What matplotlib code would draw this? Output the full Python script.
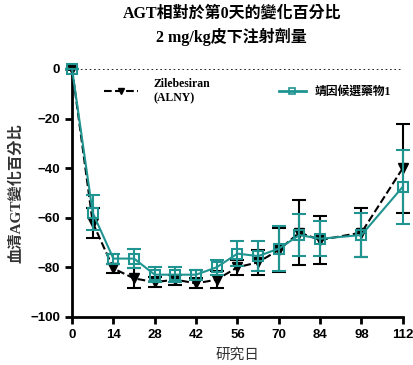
import matplotlib.pyplot as plt
from matplotlib.lines import Line2D

# data
days = [0, 7, 14, 21, 28, 35, 42, 49, 56, 63, 70, 77, 84, 98, 112]

zile_mean = [0, -62, -80.5, -84.5, -86, -85, -86.5, -85, -80, -78, -73, -66, -69, -66, -40]
zile_err = [0, 6, 2, 4, 2, 2, 2, 3.5, 3, 5, 9, 13, 9.5, 10, 18]

cand_mean = [0, -58, -76.5, -76.5, -83, -83, -83, -80, -74.5, -75.5, -72.5, -67, -68.5, -67, -47.5]
cand_err = [0, 7, 2, 4, 3, 3, 2, 3, 5, 6, 9, 8.5, 7, 9, 15]

xticks = [0, 14, 28, 42, 56, 70, 84, 98, 112]
yticks = [0, -20, -40, -60, -80, -100]

teal = '#1f9490'
cjk = ['Liberation Serif', 'Noto Sans CJK TC']

fig = plt.figure(figsize=(4.14, 3.65), dpi=100)
ax = fig.add_axes([0.174, 0.132, 0.799, 0.679])

ax.axhline(0, color='black', linestyle=':', linewidth=1.2, zorder=1)

ax.errorbar(days, zile_mean, yerr=zile_err, color='black', linestyle='--', linewidth=1.5,
            marker='v', markersize=7, capsize=4.7, elinewidth=1.5, capthick=1.5,
            clip_on=False, zorder=3)
ax.errorbar(days, cand_mean, yerr=cand_err, color=teal, linestyle='-', linewidth=1.5,
            marker='s', markersize=7, markerfacecolor='none', markeredgewidth=1.5,
            capsize=4.7, elinewidth=1.5, capthick=1.5,
            clip_on=False, zorder=4)

ax.set_xlim(0, 112)
ax.set_ylim(-100, 0)
ax.set_xticks(xticks)
ax.set_yticks(yticks)
for lab in ax.get_xticklabels() + ax.get_yticklabels():
    lab.set_fontweight('bold')
    lab.set_fontsize(9.5)
    lab.set_family('Liberation Sans')

ax.spines['top'].set_visible(False)
ax.spines['right'].set_visible(False)
ax.spines['left'].set_linewidth(2)
ax.spines['bottom'].set_linewidth(2)
ax.tick_params(width=2, length=5, direction='out')

ax.set_xlabel('研究日', fontsize=10.5, family=['Noto Sans CJK TC'], color='#333333', labelpad=5)
ax.set_ylabel('血清AGT變化百分比', fontsize=11, family=cjk, fontweight='bold', color='#333333', labelpad=5)

fig.suptitle('AGT相對於第0天的變化百分比\n2 mg/kg皮下注射劑量', x=0.56, y=0.985,
             fontsize=11.5, fontweight='bold', family=cjk, linespacing=1.45)

# two separate legends, placed like in the reference
h1 = Line2D([], [], color='black', linestyle='--', linewidth=1.5, marker='v', markersize=5)
h2 = Line2D([], [], color=teal, linestyle='-', linewidth=2, marker='s', markersize=5,
            markerfacecolor='none', markeredgewidth=1.2)
prop = {'family': cjk, 'weight': 'bold', 'size': 8.5}
leg1 = ax.legend([h1], ['Zilebesiran\n(ALNY)'], loc='center left', bbox_to_anchor=(0.079, 0.911),
                 frameon=False, borderpad=0, handlelength=2.9, handletextpad=1.3, prop=prop)
ax.add_artist(leg1)
ax.legend([h2], ['靖因候選藥物1'], loc='center left', bbox_to_anchor=(0.607, 0.907),
          frameon=False, borderpad=0, handlelength=2.3, handletextpad=0.7, prop=prop)

fig.savefig('out.png', dpi=100)
